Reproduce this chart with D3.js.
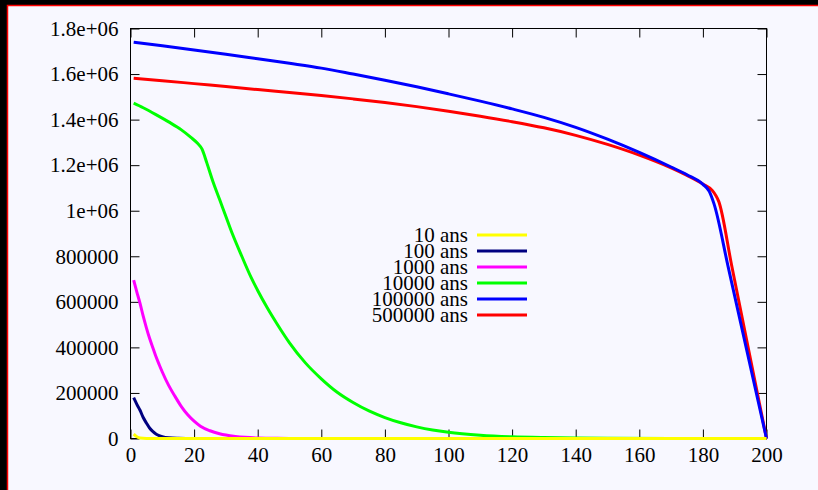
<!DOCTYPE html>
<html>
<head>
<meta charset="utf-8">
<script src="https://cdn.jsdelivr.net/npm/d3@7"></script>
<style>
  body { margin: 0; background: #000; }
  svg { display: block; }
</style>
</head>
<body>
<div id="chart"></div>
<script>
// axis ticks
var xTicks = [0, 20, 40, 60, 80, 100, 120, 140, 160, 180, 200];
var yTicks = [0, 200000, 400000, 600000, 800000, 1000000, 1200000, 1400000, 1600000, 1800000];
var yTickLabels = ["0", "200000", "400000", "600000", "800000", "1e+06", "1.2e+06", "1.4e+06", "1.6e+06", "1.8e+06"];

// series as [x, value] pairs
var seriesNames = ["10 ans", "100 ans", "1000 ans", "10000 ans", "100000 ans", "500000 ans"];
var seriesColors = ["#ffff00", "#000080", "#ff00ff", "#00ff00", "#0000ff", "#ff0000"];

var ans10 = [[1, 19000], [2, 8000], [3, 2500], [5, 300], [10, 0], [50, 0], [100, 0], [150, 0], [200, 0]];
var ans100 = [[1, 179000], [2, 150000], [3, 124000], [4, 92000], [5, 68000], [6, 46000], [7, 31000], [8, 20000],
  [9, 13000], [10, 8000], [12, 3000], [15, 1000], [20, 0], [60, 0], [120, 0], [200, 0]];
var ans1000 = [[1, 695000], [2, 643000], [3, 593000], [4, 537000], [5, 486000], [6, 440000], [7, 400000],
  [8, 360000], [9, 325000], [10, 292000], [12, 233000], [14, 185000], [16, 140000], [18, 104000],
  [20, 76000], [22, 54000], [25, 34000], [28, 21000], [30, 15000], [33, 9000], [36, 5000], [40, 2000],
  [45, 800], [50, 0], [100, 0], [150, 0], [200, 0]];
var ans10000 = [[1, 1472000], [4, 1452000], [8, 1422000], [12, 1390000], [16, 1355000], [19, 1322000],
  [21, 1297000], [22.5, 1270000], [24, 1210000], [26, 1125000], [28, 1050000], [30, 975000], [32, 900000],
  [35, 800000], [38, 705000], [40, 650000], [43, 574000], [46, 505000], [50, 420000], [55, 332000],
  [60, 262000], [65, 203000], [70, 158000], [75, 121000], [80, 92000], [85, 69000], [90, 51000],
  [95, 37000], [100, 27000], [110, 14500], [120, 7500], [130, 4000], [140, 2000], [150, 1000],
  [170, 300], [200, 0]];
var ans100000 = [[1, 1740000], [10, 1724000], [20, 1706000], [30, 1687000], [40, 1667000], [50, 1647000],
  [60, 1626000], [70, 1600000], [80, 1573000], [90, 1544000], [100, 1513000], [110, 1481000], [120, 1447000],
  [130, 1410000], [140, 1366000], [150, 1314000], [160, 1256000], [170, 1192000], [175, 1158000],
  [180, 1116000], [182, 1085000], [183.5, 1030000], [188, 750000], [194, 375000], [200, 0]];
var ans500000 = [[1, 1582000], [10, 1571000], [20, 1558000], [30, 1545000], [40, 1532000], [50, 1519000],
  [60, 1506000], [70, 1491000], [80, 1475000], [90, 1457000], [100, 1437000], [110, 1415000], [120, 1391000],
  [130, 1364000], [140, 1331000], [150, 1291000], [160, 1244000], [170, 1188000], [175, 1155000],
  [180, 1117000], [183, 1088000], [184, 1068000], [185, 1040000], [189, 763000], [194.5, 381000], [200, 0]];

var seriesData = [ans10, ans100, ans1000, ans10000, ans100000, ans500000];

var W = 818, H = 490;
var fontFamily = "'Liberation Serif', 'Times New Roman', serif";
var fontSize = "21px";

var svg = d3.select("#chart").append("svg")
    .attr("width", W)
    .attr("height", H);

// frame
svg.append("rect")
    .attr("x", 7.5).attr("y", 5.5)
    .attr("width", W).attr("height", H)
    .attr("fill", "#f8f8ff")
    .attr("stroke", "#ff0000")
    .attr("stroke-width", 1.5);

var xScale = d3.scaleLinear().domain([0, 200]).range([130.5, 766.5]);
var yScale = d3.scaleLinear().domain([0, 1800000]).range([438.5, 28.5]);

function styleAxis(g) {
    g.select(".domain").remove();
    g.selectAll(".tick line").attr("stroke", "#000");
    g.selectAll(".tick text")
        .attr("fill", "#000")
        .style("font-family", fontFamily)
        .style("font-size", fontSize);
}

svg.append("g")
    .attr("transform", "translate(" + xScale(0) + ",0)")
    .call(d3.axisLeft(yScale).tickValues(yTicks)
        .tickFormat(function(d, i) { return yTickLabels[i]; })
        .tickSize(-9).tickPadding(12))
    .call(styleAxis);

svg.append("g")
    .attr("transform", "translate(" + xScale(200) + ",0)")
    .call(d3.axisRight(yScale).tickValues(yTicks).tickFormat("").tickSize(-9))
    .call(styleAxis);

svg.append("g")
    .attr("transform", "translate(0," + yScale(0) + ")")
    .call(d3.axisBottom(xScale).tickValues(xTicks).tickFormat(d3.format("d"))
        .tickSize(-9).tickPadding(9))
    .call(styleAxis);

svg.append("g")
    .attr("transform", "translate(0," + yScale(1800000) + ")")
    .call(d3.axisTop(xScale).tickValues(xTicks).tickFormat("").tickSize(-9))
    .call(styleAxis);

// plot border
svg.append("rect")
    .attr("x", xScale(0)).attr("y", yScale(1800000))
    .attr("width", xScale(200) - xScale(0))
    .attr("height", yScale(0) - yScale(1800000))
    .attr("fill", "none")
    .attr("stroke", "#000")
    .attr("stroke-width", 1);

var line = d3.line()
    .curve(d3.curveMonotoneX)
    .x(function(d) { return xScale(d[0]); })
    .y(function(d) { return yScale(d[1]); });

// drawn last-to-first so the short-lived series sit on top
var order = d3.range(seriesData.length).reverse();
svg.selectAll(".trend")
    .data(order)
    .enter().append("path")
    .attr("class", "trend")
    .attr("d", function(i) { return line(seriesData[i]); })
    .attr("fill", "none")
    .attr("stroke", function(i) { return seriesColors[i]; })
    .attr("stroke-width", 3)
    .attr("stroke-linejoin", "round");

// legend
var legend = svg.append("g").attr("class", "legend");
var legendRow = d3.scaleLinear().domain([0, 1]).range([235, 251]);
var rows = legend.selectAll("g")
    .data(seriesNames)
    .enter().append("g")
    .attr("transform", function(d, i) { return "translate(0," + legendRow(i) + ")"; });
rows.append("text")
    .attr("x", 468)
    .attr("y", 6.5)
    .attr("text-anchor", "end")
    .style("font-family", fontFamily)
    .style("font-size", fontSize)
    .attr("fill", "#000")
    .text(function(d) { return d; });
rows.append("line")
    .attr("x1", 477).attr("x2", 527)
    .attr("y1", 0).attr("y2", 0)
    .attr("stroke", function(d, i) { return seriesColors[i]; })
    .attr("stroke-width", 3);
</script>
</body>
</html>
